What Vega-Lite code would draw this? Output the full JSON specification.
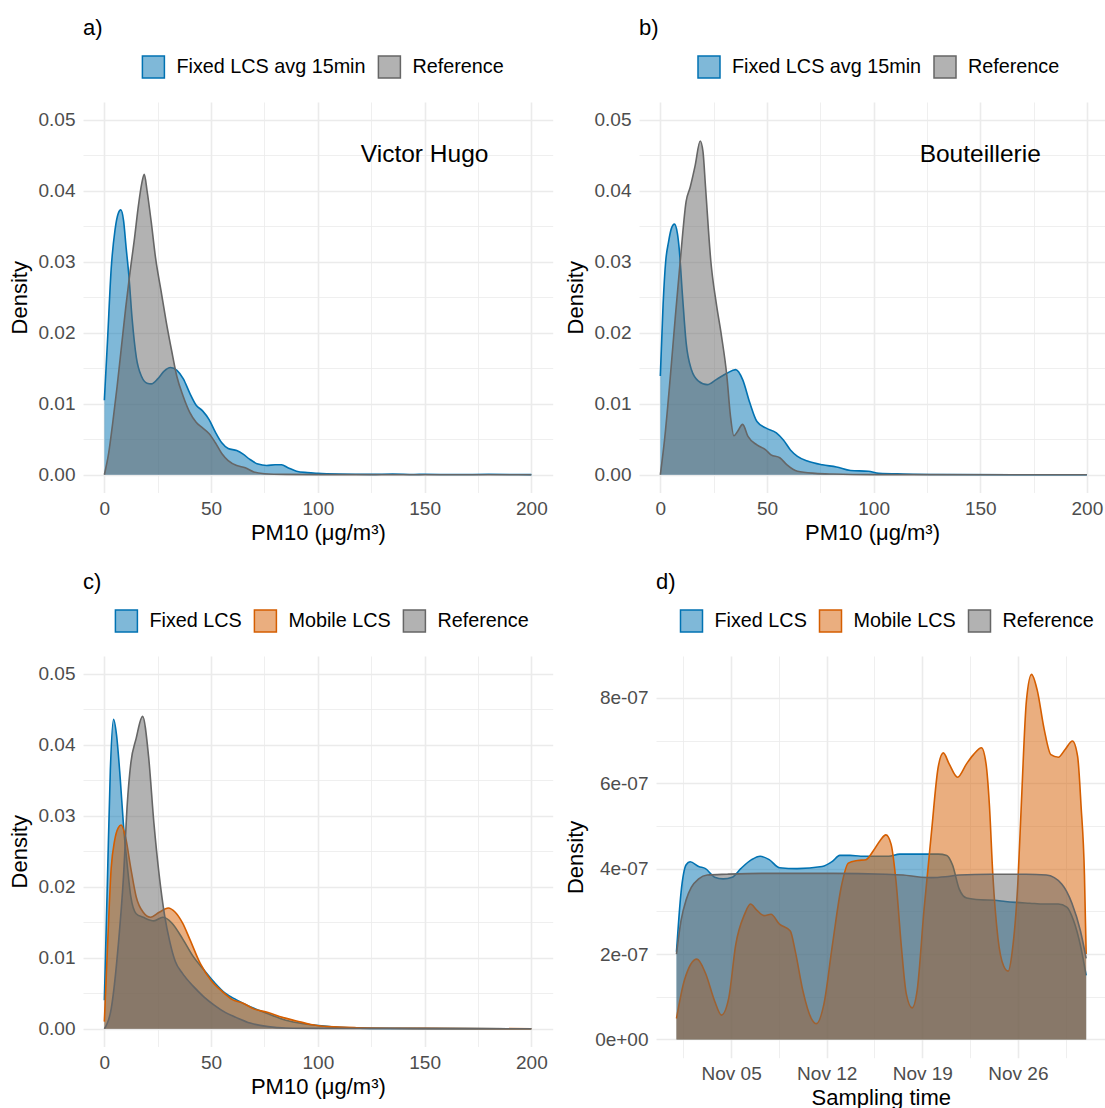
{
  "$schema": "https://vega.github.io/schema/vega-lite/v6.json",
  "padding": {"left": 8, "top": 16, "right": 0, "bottom": 0},
  "config": {
    "font": "Liberation Sans",
    "view": {"stroke": null},
    "axis": {
      "domain": false, "ticks": false, "tickSize": 0,
      "gridColor": "#EBEBEB",
      "labelColor": "#4D4D4D", "labelFontSize": 19, "labelFont": "Liberation Sans",
      "titleFont": "Liberation Sans", "titleFontSize": 22, "titleFontWeight": "normal", "titleColor": "#000000",
      "labelPadding": 8, "titlePadding": 7, "labelFlush": false, "labelOverlap": false
    },
    "axisX": {"labelPadding": 7, "titlePadding": 4},
    "title": {"font": "Liberation Sans", "fontSize": 22, "fontWeight": "normal", "color": "#000000", "anchor": "start", "frame": "group", "baseline": "alphabetic", "offset": 15.5},
    "legend": {
      "orient": "none", "direction": "horizontal", "title": null,
      "symbolType": "square", "symbolSize": 484, "symbolStrokeWidth": 1.5,
      "labelFont": "Liberation Sans", "labelFontSize": 19.8, "labelColor": "#000000", "labelLimit": 500,
      "labelOffset": 11, "columnPadding": 9, "padding": 0, "offset": 0
    }
  },
  "datasets": {
    "pm": [
      {"p":"a","s":"Fixed LCS avg 15min","x":0,"y":0.0105},{"p":"a","s":"Fixed LCS avg 15min","x":1.5,"y":0.019},{"p":"a","s":"Fixed LCS avg 15min","x":3.2,"y":0.029},{"p":"a","s":"Fixed LCS avg 15min","x":5,"y":0.0345},{"p":"a","s":"Fixed LCS avg 15min","x":6.5,"y":0.0368},{"p":"a","s":"Fixed LCS avg 15min","x":7.7,"y":0.0373},{"p":"a","s":"Fixed LCS avg 15min","x":9,"y":0.0358},{"p":"a","s":"Fixed LCS avg 15min","x":10.2,"y":0.032},{"p":"a","s":"Fixed LCS avg 15min","x":11.5,"y":0.028},{"p":"a","s":"Fixed LCS avg 15min","x":13,"y":0.022},{"p":"a","s":"Fixed LCS avg 15min","x":15,"y":0.0165},{"p":"a","s":"Fixed LCS avg 15min","x":17.5,"y":0.0138},{"p":"a","s":"Fixed LCS avg 15min","x":20,"y":0.0129},{"p":"a","s":"Fixed LCS avg 15min","x":22,"y":0.0128},{"p":"a","s":"Fixed LCS avg 15min","x":25,"y":0.0135},{"p":"a","s":"Fixed LCS avg 15min","x":28,"y":0.0146},{"p":"a","s":"Fixed LCS avg 15min","x":31,"y":0.0151},{"p":"a","s":"Fixed LCS avg 15min","x":34,"y":0.0147},{"p":"a","s":"Fixed LCS avg 15min","x":37,"y":0.0135},{"p":"a","s":"Fixed LCS avg 15min","x":40,"y":0.0115},{"p":"a","s":"Fixed LCS avg 15min","x":43,"y":0.0098},{"p":"a","s":"Fixed LCS avg 15min","x":46,"y":0.009},{"p":"a","s":"Fixed LCS avg 15min","x":49,"y":0.0078},{"p":"a","s":"Fixed LCS avg 15min","x":52,"y":0.006},{"p":"a","s":"Fixed LCS avg 15min","x":55,"y":0.0045},{"p":"a","s":"Fixed LCS avg 15min","x":58,"y":0.0037},{"p":"a","s":"Fixed LCS avg 15min","x":62,"y":0.0034},{"p":"a","s":"Fixed LCS avg 15min","x":65,"y":0.0029},{"p":"a","s":"Fixed LCS avg 15min","x":68,"y":0.0022},{"p":"a","s":"Fixed LCS avg 15min","x":72,"y":0.0015},{"p":"a","s":"Fixed LCS avg 15min","x":76,"y":0.0013},{"p":"a","s":"Fixed LCS avg 15min","x":80,"y":0.0014},{"p":"a","s":"Fixed LCS avg 15min","x":83,"y":0.0014},{"p":"a","s":"Fixed LCS avg 15min","x":86,"y":0.001},{"p":"a","s":"Fixed LCS avg 15min","x":90,"y":0.0005},{"p":"a","s":"Fixed LCS avg 15min","x":95,"y":0.0003},{"p":"a","s":"Fixed LCS avg 15min","x":100,"y":0.0002},{"p":"a","s":"Fixed LCS avg 15min","x":110,"y":0.0001},{"p":"a","s":"Fixed LCS avg 15min","x":125,"y":0.00005},{"p":"a","s":"Fixed LCS avg 15min","x":135,"y":0.0001},{"p":"a","s":"Fixed LCS avg 15min","x":145,"y":0.00004},{"p":"a","s":"Fixed LCS avg 15min","x":150,"y":0.00006},{"p":"a","s":"Fixed LCS avg 15min","x":165,"y":0.00003},{"p":"a","s":"Fixed LCS avg 15min","x":180,"y":0.00006},{"p":"a","s":"Fixed LCS avg 15min","x":200,"y":0.00002},
      {"p":"a","s":"Reference","x":0,"y":0},{"p":"a","s":"Reference","x":2,"y":0.003},{"p":"a","s":"Reference","x":4,"y":0.0075},{"p":"a","s":"Reference","x":6,"y":0.0125},{"p":"a","s":"Reference","x":8,"y":0.018},{"p":"a","s":"Reference","x":10,"y":0.0235},{"p":"a","s":"Reference","x":12,"y":0.0285},{"p":"a","s":"Reference","x":14,"y":0.033},{"p":"a","s":"Reference","x":16,"y":0.038},{"p":"a","s":"Reference","x":17.5,"y":0.041},{"p":"a","s":"Reference","x":18.7,"y":0.0423},{"p":"a","s":"Reference","x":20,"y":0.04},{"p":"a","s":"Reference","x":22,"y":0.0355},{"p":"a","s":"Reference","x":24,"y":0.0305},{"p":"a","s":"Reference","x":26.5,"y":0.026},{"p":"a","s":"Reference","x":29,"y":0.0215},{"p":"a","s":"Reference","x":31.5,"y":0.0175},{"p":"a","s":"Reference","x":34,"y":0.0138},{"p":"a","s":"Reference","x":37,"y":0.011},{"p":"a","s":"Reference","x":40,"y":0.0088},{"p":"a","s":"Reference","x":43,"y":0.0074},{"p":"a","s":"Reference","x":46,"y":0.0066},{"p":"a","s":"Reference","x":49,"y":0.0058},{"p":"a","s":"Reference","x":52,"y":0.0045},{"p":"a","s":"Reference","x":55,"y":0.003},{"p":"a","s":"Reference","x":58,"y":0.002},{"p":"a","s":"Reference","x":62,"y":0.0013},{"p":"a","s":"Reference","x":66,"y":0.001},{"p":"a","s":"Reference","x":70,"y":0.0004},{"p":"a","s":"Reference","x":75,"y":0.00015},{"p":"a","s":"Reference","x":85,"y":0.00005},{"p":"a","s":"Reference","x":100,"y":0.00002},{"p":"a","s":"Reference","x":200,"y":0},
      {"p":"b","s":"Fixed LCS avg 15min","x":0,"y":0.0139},{"p":"b","s":"Fixed LCS avg 15min","x":1.3,"y":0.024},{"p":"b","s":"Fixed LCS avg 15min","x":2.5,"y":0.03},{"p":"b","s":"Fixed LCS avg 15min","x":3.8,"y":0.0327},{"p":"b","s":"Fixed LCS avg 15min","x":5.2,"y":0.0347},{"p":"b","s":"Fixed LCS avg 15min","x":6.6,"y":0.0353},{"p":"b","s":"Fixed LCS avg 15min","x":8,"y":0.034},{"p":"b","s":"Fixed LCS avg 15min","x":8.8,"y":0.032},{"p":"b","s":"Fixed LCS avg 15min","x":10.4,"y":0.0252},{"p":"b","s":"Fixed LCS avg 15min","x":12.1,"y":0.0186},{"p":"b","s":"Fixed LCS avg 15min","x":14.6,"y":0.0148},{"p":"b","s":"Fixed LCS avg 15min","x":17.9,"y":0.0132},{"p":"b","s":"Fixed LCS avg 15min","x":22,"y":0.0127},{"p":"b","s":"Fixed LCS avg 15min","x":26.2,"y":0.0134},{"p":"b","s":"Fixed LCS avg 15min","x":31.2,"y":0.0143},{"p":"b","s":"Fixed LCS avg 15min","x":35.3,"y":0.0148},{"p":"b","s":"Fixed LCS avg 15min","x":38.6,"y":0.0134},{"p":"b","s":"Fixed LCS avg 15min","x":42,"y":0.0101},{"p":"b","s":"Fixed LCS avg 15min","x":45.3,"y":0.0075},{"p":"b","s":"Fixed LCS avg 15min","x":49.4,"y":0.0066},{"p":"b","s":"Fixed LCS avg 15min","x":54.4,"y":0.0059},{"p":"b","s":"Fixed LCS avg 15min","x":57.7,"y":0.0049},{"p":"b","s":"Fixed LCS avg 15min","x":61,"y":0.0035},{"p":"b","s":"Fixed LCS avg 15min","x":64.3,"y":0.0026},{"p":"b","s":"Fixed LCS avg 15min","x":69.3,"y":0.0019},{"p":"b","s":"Fixed LCS avg 15min","x":76,"y":0.0014},{"p":"b","s":"Fixed LCS avg 15min","x":82.6,"y":0.0011},{"p":"b","s":"Fixed LCS avg 15min","x":89.2,"y":0.0006},{"p":"b","s":"Fixed LCS avg 15min","x":97.5,"y":0.0005},{"p":"b","s":"Fixed LCS avg 15min","x":102.5,"y":0.0002},{"p":"b","s":"Fixed LCS avg 15min","x":114,"y":0.0001},{"p":"b","s":"Fixed LCS avg 15min","x":130,"y":0.00003},{"p":"b","s":"Fixed LCS avg 15min","x":200,"y":0},
      {"p":"b","s":"Reference","x":0,"y":0},{"p":"b","s":"Reference","x":2,"y":0.005},{"p":"b","s":"Reference","x":4.6,"y":0.0135},{"p":"b","s":"Reference","x":7.1,"y":0.0225},{"p":"b","s":"Reference","x":9.6,"y":0.031},{"p":"b","s":"Reference","x":12.1,"y":0.0385},{"p":"b","s":"Reference","x":14,"y":0.0405},{"p":"b","s":"Reference","x":16.3,"y":0.0435},{"p":"b","s":"Reference","x":18.7,"y":0.047},{"p":"b","s":"Reference","x":20,"y":0.0455},{"p":"b","s":"Reference","x":21.2,"y":0.0405},{"p":"b","s":"Reference","x":23.7,"y":0.03},{"p":"b","s":"Reference","x":26.2,"y":0.0242},{"p":"b","s":"Reference","x":28.7,"y":0.0195},{"p":"b","s":"Reference","x":31.2,"y":0.0139},{"p":"b","s":"Reference","x":32.8,"y":0.0085},{"p":"b","s":"Reference","x":34.5,"y":0.0055},{"p":"b","s":"Reference","x":36.2,"y":0.0061},{"p":"b","s":"Reference","x":38.6,"y":0.0071},{"p":"b","s":"Reference","x":41.1,"y":0.0054},{"p":"b","s":"Reference","x":45.3,"y":0.0042},{"p":"b","s":"Reference","x":49.4,"y":0.0035},{"p":"b","s":"Reference","x":51.9,"y":0.0028},{"p":"b","s":"Reference","x":56,"y":0.0024},{"p":"b","s":"Reference","x":59.4,"y":0.0014},{"p":"b","s":"Reference","x":64.3,"y":0.0005},{"p":"b","s":"Reference","x":72.6,"y":0.0002},{"p":"b","s":"Reference","x":81,"y":0.0001},{"p":"b","s":"Reference","x":100,"y":0.00002},{"p":"b","s":"Reference","x":200,"y":0},
      {"p":"c","s":"Fixed LCS","x":0,"y":0.004},{"p":"c","s":"Fixed LCS","x":1.5,"y":0.0216},{"p":"c","s":"Fixed LCS","x":2.8,"y":0.0364},{"p":"c","s":"Fixed LCS","x":4.3,"y":0.0436},{"p":"c","s":"Fixed LCS","x":5.7,"y":0.0414},{"p":"c","s":"Fixed LCS","x":7.4,"y":0.0354},{"p":"c","s":"Fixed LCS","x":9,"y":0.0285},{"p":"c","s":"Fixed LCS","x":10.7,"y":0.0231},{"p":"c","s":"Fixed LCS","x":12.4,"y":0.0186},{"p":"c","s":"Fixed LCS","x":14.9,"y":0.0162},{"p":"c","s":"Fixed LCS","x":18.2,"y":0.0157},{"p":"c","s":"Fixed LCS","x":23.2,"y":0.0152},{"p":"c","s":"Fixed LCS","x":27.4,"y":0.0157},{"p":"c","s":"Fixed LCS","x":31.6,"y":0.0149},{"p":"c","s":"Fixed LCS","x":36.6,"y":0.0127},{"p":"c","s":"Fixed LCS","x":41.6,"y":0.0102},{"p":"c","s":"Fixed LCS","x":46.6,"y":0.0083},{"p":"c","s":"Fixed LCS","x":51.6,"y":0.0065},{"p":"c","s":"Fixed LCS","x":56.6,"y":0.005},{"p":"c","s":"Fixed LCS","x":61.7,"y":0.0041},{"p":"c","s":"Fixed LCS","x":68.3,"y":0.0031},{"p":"c","s":"Fixed LCS","x":76.7,"y":0.0021},{"p":"c","s":"Fixed LCS","x":85,"y":0.0012},{"p":"c","s":"Fixed LCS","x":93.4,"y":0.0007},{"p":"c","s":"Fixed LCS","x":101.8,"y":0.0004},{"p":"c","s":"Fixed LCS","x":110,"y":0.0002},{"p":"c","s":"Fixed LCS","x":130,"y":0.00005},{"p":"c","s":"Fixed LCS","x":200,"y":0},
      {"p":"c","s":"Mobile LCS","x":0,"y":0.001},{"p":"c","s":"Mobile LCS","x":1.5,"y":0.0117},{"p":"c","s":"Mobile LCS","x":3.2,"y":0.0226},{"p":"c","s":"Mobile LCS","x":4.8,"y":0.0265},{"p":"c","s":"Mobile LCS","x":6.5,"y":0.0283},{"p":"c","s":"Mobile LCS","x":7.9,"y":0.0287},{"p":"c","s":"Mobile LCS","x":9.9,"y":0.027},{"p":"c","s":"Mobile LCS","x":12.4,"y":0.0226},{"p":"c","s":"Mobile LCS","x":14.9,"y":0.0186},{"p":"c","s":"Mobile LCS","x":18.2,"y":0.0164},{"p":"c","s":"Mobile LCS","x":21.6,"y":0.0157},{"p":"c","s":"Mobile LCS","x":25.7,"y":0.0164},{"p":"c","s":"Mobile LCS","x":29.9,"y":0.017},{"p":"c","s":"Mobile LCS","x":33.2,"y":0.0164},{"p":"c","s":"Mobile LCS","x":36.6,"y":0.0149},{"p":"c","s":"Mobile LCS","x":39.9,"y":0.0127},{"p":"c","s":"Mobile LCS","x":44.9,"y":0.0092},{"p":"c","s":"Mobile LCS","x":50,"y":0.0068},{"p":"c","s":"Mobile LCS","x":55,"y":0.0053},{"p":"c","s":"Mobile LCS","x":60,"y":0.0041},{"p":"c","s":"Mobile LCS","x":65,"y":0.0036},{"p":"c","s":"Mobile LCS","x":70,"y":0.0028},{"p":"c","s":"Mobile LCS","x":76.7,"y":0.0023},{"p":"c","s":"Mobile LCS","x":83.4,"y":0.0016},{"p":"c","s":"Mobile LCS","x":90,"y":0.0011},{"p":"c","s":"Mobile LCS","x":96.7,"y":0.0006},{"p":"c","s":"Mobile LCS","x":105,"y":0.0003},{"p":"c","s":"Mobile LCS","x":118,"y":0.00015},{"p":"c","s":"Mobile LCS","x":150,"y":0.00005},{"p":"c","s":"Mobile LCS","x":200,"y":0},
      {"p":"c","s":"Reference","x":0,"y":0},{"p":"c","s":"Reference","x":3.2,"y":0.0028},{"p":"c","s":"Reference","x":6.5,"y":0.0117},{"p":"c","s":"Reference","x":9,"y":0.0216},{"p":"c","s":"Reference","x":10.7,"y":0.0315},{"p":"c","s":"Reference","x":12.4,"y":0.0374},{"p":"c","s":"Reference","x":14.9,"y":0.0409},{"p":"c","s":"Reference","x":17.9,"y":0.044},{"p":"c","s":"Reference","x":20.7,"y":0.0384},{"p":"c","s":"Reference","x":23.2,"y":0.029},{"p":"c","s":"Reference","x":25.7,"y":0.0216},{"p":"c","s":"Reference","x":28.2,"y":0.016},{"p":"c","s":"Reference","x":30.7,"y":0.0122},{"p":"c","s":"Reference","x":33.2,"y":0.0095},{"p":"c","s":"Reference","x":36.6,"y":0.0078},{"p":"c","s":"Reference","x":41.6,"y":0.006},{"p":"c","s":"Reference","x":46.6,"y":0.0045},{"p":"c","s":"Reference","x":51.6,"y":0.0033},{"p":"c","s":"Reference","x":56.6,"y":0.0023},{"p":"c","s":"Reference","x":61.7,"y":0.0016},{"p":"c","s":"Reference","x":68.3,"y":0.0008},{"p":"c","s":"Reference","x":76.7,"y":0.0003},{"p":"c","s":"Reference","x":85,"y":0.0001},{"p":"c","s":"Reference","x":100,"y":0.00005},{"p":"c","s":"Reference","x":200,"y":0}
    ],
    "tm": [
      {"s":"Fixed LCS","t":"2021-11-01T00:00:00Z","y":2.05e-7},{"s":"Fixed LCS","t":"2021-11-01T08:00:00Z","y":3.44e-7},{"s":"Fixed LCS","t":"2021-11-01T17:00:00Z","y":4.09e-7},{"s":"Fixed LCS","t":"2021-11-02T00:00:00Z","y":4.16e-7},{"s":"Fixed LCS","t":"2021-11-02T15:00:00Z","y":4.05e-7},{"s":"Fixed LCS","t":"2021-11-03T03:00:00Z","y":4.0e-7},{"s":"Fixed LCS","t":"2021-11-03T19:00:00Z","y":3.8e-7},{"s":"Fixed LCS","t":"2021-11-04T10:00:00Z","y":3.76e-7},{"s":"Fixed LCS","t":"2021-11-05T02:00:00Z","y":3.8e-7},{"s":"Fixed LCS","t":"2021-11-05T17:00:00Z","y":4.0e-7},{"s":"Fixed LCS","t":"2021-11-06T12:00:00Z","y":4.21e-7},{"s":"Fixed LCS","t":"2021-11-07T03:00:00Z","y":4.29e-7},{"s":"Fixed LCS","t":"2021-11-07T19:00:00Z","y":4.21e-7},{"s":"Fixed LCS","t":"2021-11-08T13:00:00Z","y":4.02e-7},{"s":"Fixed LCS","t":"2021-11-09T20:00:00Z","y":4.0e-7},{"s":"Fixed LCS","t":"2021-11-11T16:00:00Z","y":4.05e-7},{"s":"Fixed LCS","t":"2021-11-12T10:00:00Z","y":4.17e-7},{"s":"Fixed LCS","t":"2021-11-12T23:00:00Z","y":4.31e-7},{"s":"Fixed LCS","t":"2021-11-13T17:00:00Z","y":4.31e-7},{"s":"Fixed LCS","t":"2021-11-14T12:00:00Z","y":4.29e-7},{"s":"Fixed LCS","t":"2021-11-15T12:00:00Z","y":4.29e-7},{"s":"Fixed LCS","t":"2021-11-16T13:00:00Z","y":4.29e-7},{"s":"Fixed LCS","t":"2021-11-17T08:00:00Z","y":4.34e-7},{"s":"Fixed LCS","t":"2021-11-18T21:00:00Z","y":4.34e-7},{"s":"Fixed LCS","t":"2021-11-20T04:00:00Z","y":4.34e-7},{"s":"Fixed LCS","t":"2021-11-20T19:00:00Z","y":4.31e-7},{"s":"Fixed LCS","t":"2021-11-21T05:00:00Z","y":4.09e-7},{"s":"Fixed LCS","t":"2021-11-21T17:00:00Z","y":3.52e-7},{"s":"Fixed LCS","t":"2021-11-22T06:00:00Z","y":3.31e-7},{"s":"Fixed LCS","t":"2021-11-23T06:00:00Z","y":3.27e-7},{"s":"Fixed LCS","t":"2021-11-24T07:00:00Z","y":3.26e-7},{"s":"Fixed LCS","t":"2021-11-25T02:00:00Z","y":3.23e-7},{"s":"Fixed LCS","t":"2021-11-25T20:00:00Z","y":3.21e-7},{"s":"Fixed LCS","t":"2021-11-26T21:00:00Z","y":3.19e-7},{"s":"Fixed LCS","t":"2021-11-27T22:00:00Z","y":3.17e-7},{"s":"Fixed LCS","t":"2021-11-28T23:00:00Z","y":3.17e-7},{"s":"Fixed LCS","t":"2021-11-29T14:00:00Z","y":3.1e-7},{"s":"Fixed LCS","t":"2021-11-30T02:00:00Z","y":2.78e-7},{"s":"Fixed LCS","t":"2021-11-30T14:00:00Z","y":2.2e-7},{"s":"Fixed LCS","t":"2021-12-01T00:00:00Z","y":1.5e-7},
      {"s":"Mobile LCS","t":"2021-11-01T00:00:00Z","y":0.49e-7},{"s":"Mobile LCS","t":"2021-11-01T14:00:00Z","y":1.39e-7},{"s":"Mobile LCS","t":"2021-11-02T12:00:00Z","y":1.88e-7},{"s":"Mobile LCS","t":"2021-11-03T03:00:00Z","y":1.55e-7},{"s":"Mobile LCS","t":"2021-11-03T19:00:00Z","y":0.9e-7},{"s":"Mobile LCS","t":"2021-11-04T07:00:00Z","y":0.57e-7},{"s":"Mobile LCS","t":"2021-11-04T20:00:00Z","y":0.98e-7},{"s":"Mobile LCS","t":"2021-11-05T08:00:00Z","y":2.21e-7},{"s":"Mobile LCS","t":"2021-11-06T00:00:00Z","y":2.94e-7},{"s":"Mobile LCS","t":"2021-11-06T10:00:00Z","y":3.17e-7},{"s":"Mobile LCS","t":"2021-11-06T21:00:00Z","y":3.03e-7},{"s":"Mobile LCS","t":"2021-11-07T10:00:00Z","y":2.9e-7},{"s":"Mobile LCS","t":"2021-11-07T22:00:00Z","y":2.93e-7},{"s":"Mobile LCS","t":"2021-11-08T13:00:00Z","y":2.7e-7},{"s":"Mobile LCS","t":"2021-11-09T08:00:00Z","y":2.54e-7},{"s":"Mobile LCS","t":"2021-11-09T17:00:00Z","y":2.05e-7},{"s":"Mobile LCS","t":"2021-11-10T06:00:00Z","y":1.15e-7},{"s":"Mobile LCS","t":"2021-11-10T21:00:00Z","y":0.49e-7},{"s":"Mobile LCS","t":"2021-11-11T06:00:00Z","y":0.37e-7},{"s":"Mobile LCS","t":"2021-11-11T19:00:00Z","y":0.82e-7},{"s":"Mobile LCS","t":"2021-11-12T10:00:00Z","y":2.21e-7},{"s":"Mobile LCS","t":"2021-11-13T02:00:00Z","y":3.6e-7},{"s":"Mobile LCS","t":"2021-11-13T14:00:00Z","y":4.13e-7},{"s":"Mobile LCS","t":"2021-11-14T06:00:00Z","y":4.19e-7},{"s":"Mobile LCS","t":"2021-11-14T21:00:00Z","y":4.21e-7},{"s":"Mobile LCS","t":"2021-11-15T10:00:00Z","y":4.42e-7},{"s":"Mobile LCS","t":"2021-11-15T22:00:00Z","y":4.66e-7},{"s":"Mobile LCS","t":"2021-11-16T08:00:00Z","y":4.79e-7},{"s":"Mobile LCS","t":"2021-11-16T17:00:00Z","y":4.58e-7},{"s":"Mobile LCS","t":"2021-11-17T02:00:00Z","y":3.68e-7},{"s":"Mobile LCS","t":"2021-11-17T11:00:00Z","y":2.21e-7},{"s":"Mobile LCS","t":"2021-11-17T20:00:00Z","y":1.06e-7},{"s":"Mobile LCS","t":"2021-11-18T06:00:00Z","y":0.74e-7},{"s":"Mobile LCS","t":"2021-11-18T15:00:00Z","y":1.15e-7},{"s":"Mobile LCS","t":"2021-11-19T03:00:00Z","y":3.03e-7},{"s":"Mobile LCS","t":"2021-11-19T16:00:00Z","y":4.83e-7},{"s":"Mobile LCS","t":"2021-11-20T04:00:00Z","y":6.38e-7},{"s":"Mobile LCS","t":"2021-11-20T13:00:00Z","y":6.71e-7},{"s":"Mobile LCS","t":"2021-11-20T23:00:00Z","y":6.46e-7},{"s":"Mobile LCS","t":"2021-11-21T14:00:00Z","y":6.14e-7},{"s":"Mobile LCS","t":"2021-11-22T06:00:00Z","y":6.46e-7},{"s":"Mobile LCS","t":"2021-11-22T18:00:00Z","y":6.67e-7},{"s":"Mobile LCS","t":"2021-11-23T08:00:00Z","y":6.83e-7},{"s":"Mobile LCS","t":"2021-11-23T16:00:00Z","y":6.46e-7},{"s":"Mobile LCS","t":"2021-11-23T22:00:00Z","y":5.48e-7},{"s":"Mobile LCS","t":"2021-11-24T04:00:00Z","y":3.85e-7},{"s":"Mobile LCS","t":"2021-11-24T13:00:00Z","y":2.37e-7},{"s":"Mobile LCS","t":"2021-11-24T23:00:00Z","y":1.72e-7},{"s":"Mobile LCS","t":"2021-11-25T07:00:00Z","y":1.6e-7},{"s":"Mobile LCS","t":"2021-11-25T14:00:00Z","y":2.05e-7},{"s":"Mobile LCS","t":"2021-11-26T00:00:00Z","y":3.68e-7},{"s":"Mobile LCS","t":"2021-11-26T06:00:00Z","y":5.48e-7},{"s":"Mobile LCS","t":"2021-11-26T15:00:00Z","y":7.93e-7},{"s":"Mobile LCS","t":"2021-11-27T00:00:00Z","y":8.55e-7},{"s":"Mobile LCS","t":"2021-11-27T10:00:00Z","y":8.18e-7},{"s":"Mobile LCS","t":"2021-11-27T22:00:00Z","y":7.28e-7},{"s":"Mobile LCS","t":"2021-11-28T10:00:00Z","y":6.67e-7},{"s":"Mobile LCS","t":"2021-11-28T23:00:00Z","y":6.61e-7},{"s":"Mobile LCS","t":"2021-11-29T11:00:00Z","y":6.79e-7},{"s":"Mobile LCS","t":"2021-11-30T00:00:00Z","y":6.99e-7},{"s":"Mobile LCS","t":"2021-11-30T09:00:00Z","y":6.63e-7},{"s":"Mobile LCS","t":"2021-11-30T15:00:00Z","y":5.48e-7},{"s":"Mobile LCS","t":"2021-11-30T21:00:00Z","y":3.85e-7},{"s":"Mobile LCS","t":"2021-12-01T00:00:00Z","y":2.0e-7},
      {"s":"Reference","t":"2021-11-01T00:00:00Z","y":2.0e-7},{"s":"Reference","t":"2021-11-01T08:00:00Z","y":2.78e-7},{"s":"Reference","t":"2021-11-01T17:00:00Z","y":3.27e-7},{"s":"Reference","t":"2021-11-02T02:00:00Z","y":3.56e-7},{"s":"Reference","t":"2021-11-02T15:00:00Z","y":3.76e-7},{"s":"Reference","t":"2021-11-03T06:00:00Z","y":3.85e-7},{"s":"Reference","t":"2021-11-04T17:00:00Z","y":3.87e-7},{"s":"Reference","t":"2021-11-07T06:00:00Z","y":3.89e-7},{"s":"Reference","t":"2021-11-12T10:00:00Z","y":3.89e-7},{"s":"Reference","t":"2021-11-16T07:00:00Z","y":3.87e-7},{"s":"Reference","t":"2021-11-17T14:00:00Z","y":3.85e-7},{"s":"Reference","t":"2021-11-18T22:00:00Z","y":3.8e-7},{"s":"Reference","t":"2021-11-19T16:00:00Z","y":3.79e-7},{"s":"Reference","t":"2021-11-20T17:00:00Z","y":3.81e-7},{"s":"Reference","t":"2021-11-21T17:00:00Z","y":3.85e-7},{"s":"Reference","t":"2021-11-24T00:00:00Z","y":3.87e-7},{"s":"Reference","t":"2021-11-26T14:00:00Z","y":3.87e-7},{"s":"Reference","t":"2021-11-28T02:00:00Z","y":3.85e-7},{"s":"Reference","t":"2021-11-29T05:00:00Z","y":3.64e-7},{"s":"Reference","t":"2021-11-29T23:00:00Z","y":3.19e-7},{"s":"Reference","t":"2021-11-30T14:00:00Z","y":2.54e-7},{"s":"Reference","t":"2021-12-01T00:00:00Z","y":1.9e-7}
    ]
  },
  "columns": 2,
  "align": "none",
  "spacing": {"column": 11, "row": 26},
  "resolve": {
    "scale": {"x": "independent", "y": "independent", "fill": "independent"},
    "legend": {"fill": "independent"}
  },
  "concat": [
    {
      "width": 469.7, "height": 390.5,
      "title": {"text": "a)"},
      "data": {"name": "pm"},
      "encoding": {
        "x": {"field": "x", "type": "quantitative", "scale": {"domain": [-10, 210], "nice": false, "zero": false},
          "axis": {"title": "PM10 (μg/m³)", "values": [0, 25, 50, 75, 100, 125, 150, 175, 200], "labelExpr": "datum.value % 50 == 0 ? datum.label : ''",
            "gridWidth": {"condition": {"test": "datum.value % 50 != 0", "value": 0.8}, "value": 1.6}}},
        "y": {"field": "y", "type": "quantitative", "stack": null, "scale": {"domain": [-0.0025, 0.0525], "nice": false, "zero": false},
          "axis": {"title": "Density", "values": [0, 0.005, 0.01, 0.015, 0.02, 0.025, 0.03, 0.035, 0.04, 0.045, 0.05], "labelExpr": "round(datum.value * 1000) % 10 == 0 ? format(datum.value, '.2f') : ''",
            "gridWidth": {"condition": {"test": "round(datum.value * 1000) % 10 != 0", "value": 0.8}, "value": 1.6}}}
      },
      "layer": [
        {"transform": [{"filter": "datum.p == 'a' && datum.s == 'Fixed LCS avg 15min'"}],
          "mark": {"type": "area", "interpolate": "monotone", "fillOpacity": 0.5},
          "encoding": {"y2": {"datum": 0},
            "fill": {"field": "s", "type": "nominal", "scale": {"domain": ["Fixed LCS avg 15min", "Reference"], "range": ["#0072B2", "#666666"]},
              "legend": {"legendX": 58.4, "legendY": -47, "encode": {"symbols": {"update": {"fillOpacity": {"value": 0.5}, "opacity": {"value": 1}, "stroke": {"signal": "datum.value === 'Reference' ? '#666666' : '#0072B2'"}}}}}}}},
        {"transform": [{"filter": "datum.p == 'a' && datum.s == 'Fixed LCS avg 15min'"}],
          "mark": {"type": "line", "interpolate": "monotone", "color": "#0072B2", "strokeWidth": 1.6}},
        {"transform": [{"filter": "datum.p == 'a' && datum.s == 'Reference'"}],
          "mark": {"type": "area", "interpolate": "monotone", "fillOpacity": 0.5},
          "encoding": {"y2": {"datum": 0},
            "fill": {"field": "s", "type": "nominal", "scale": {"domain": ["Fixed LCS avg 15min", "Reference"], "range": ["#0072B2", "#666666"]}}}},
        {"transform": [{"filter": "datum.p == 'a' && datum.s == 'Reference'"}],
          "mark": {"type": "line", "interpolate": "monotone", "color": "#666666", "strokeWidth": 1.6}},
        {"data": {"values": [{"x": 150, "y": 0.045, "label": "Victor Hugo"}]},
          "mark": {"type": "text", "fontSize": 24.5, "color": "#000000", "align": "center", "baseline": "middle"},
          "encoding": {"text": {"field": "label"}}}
      ]
    },
    {
      "width": 466, "height": 390.5,
      "title": {"text": "b)"},
      "data": {"name": "pm"},
      "encoding": {
        "x": {"field": "x", "type": "quantitative", "scale": {"domain": [-10, 208.5], "nice": false, "zero": false},
          "axis": {"title": "PM10 (μg/m³)", "values": [0, 25, 50, 75, 100, 125, 150, 175, 200], "labelExpr": "datum.value % 50 == 0 ? datum.label : ''",
            "gridWidth": {"condition": {"test": "datum.value % 50 != 0", "value": 0.8}, "value": 1.6}}},
        "y": {"field": "y", "type": "quantitative", "stack": null, "scale": {"domain": [-0.0025, 0.0525], "nice": false, "zero": false},
          "axis": {"title": "Density", "values": [0, 0.005, 0.01, 0.015, 0.02, 0.025, 0.03, 0.035, 0.04, 0.045, 0.05], "labelExpr": "round(datum.value * 1000) % 10 == 0 ? format(datum.value, '.2f') : ''",
            "gridWidth": {"condition": {"test": "round(datum.value * 1000) % 10 != 0", "value": 0.8}, "value": 1.6}}}
      },
      "layer": [
        {"transform": [{"filter": "datum.p == 'b' && datum.s == 'Fixed LCS avg 15min'"}],
          "mark": {"type": "area", "interpolate": "monotone", "fillOpacity": 0.5},
          "encoding": {"y2": {"datum": 0},
            "fill": {"field": "s", "type": "nominal", "scale": {"domain": ["Fixed LCS avg 15min", "Reference"], "range": ["#0072B2", "#666666"]},
              "legend": {"legendX": 58, "legendY": -47, "encode": {"symbols": {"update": {"fillOpacity": {"value": 0.5}, "opacity": {"value": 1}, "stroke": {"signal": "datum.value === 'Reference' ? '#666666' : '#0072B2'"}}}}}}}},
        {"transform": [{"filter": "datum.p == 'b' && datum.s == 'Fixed LCS avg 15min'"}],
          "mark": {"type": "line", "interpolate": "monotone", "color": "#0072B2", "strokeWidth": 1.6}},
        {"transform": [{"filter": "datum.p == 'b' && datum.s == 'Reference'"}],
          "mark": {"type": "area", "interpolate": "monotone", "fillOpacity": 0.5},
          "encoding": {"y2": {"datum": 0},
            "fill": {"field": "s", "type": "nominal", "scale": {"domain": ["Fixed LCS avg 15min", "Reference"], "range": ["#0072B2", "#666666"]}}}},
        {"transform": [{"filter": "datum.p == 'b' && datum.s == 'Reference'"}],
          "mark": {"type": "line", "interpolate": "monotone", "color": "#666666", "strokeWidth": 1.6}},
        {"data": {"values": [{"x": 150, "y": 0.045, "label": "Bouteillerie"}]},
          "mark": {"type": "text", "fontSize": 24.5, "color": "#000000", "align": "center", "baseline": "middle"},
          "encoding": {"text": {"field": "label"}}}
      ]
    },
    {
      "width": 469.7, "height": 390.5,
      "title": {"text": "c)"},
      "data": {"name": "pm"},
      "encoding": {
        "x": {"field": "x", "type": "quantitative", "scale": {"domain": [-10, 210], "nice": false, "zero": false},
          "axis": {"title": "PM10 (μg/m³)", "values": [0, 25, 50, 75, 100, 125, 150, 175, 200], "labelExpr": "datum.value % 50 == 0 ? datum.label : ''",
            "gridWidth": {"condition": {"test": "datum.value % 50 != 0", "value": 0.8}, "value": 1.6}}},
        "y": {"field": "y", "type": "quantitative", "stack": null, "scale": {"domain": [-0.0025, 0.0525], "nice": false, "zero": false},
          "axis": {"title": "Density", "values": [0, 0.005, 0.01, 0.015, 0.02, 0.025, 0.03, 0.035, 0.04, 0.045, 0.05], "labelExpr": "round(datum.value * 1000) % 10 == 0 ? format(datum.value, '.2f') : ''",
            "gridWidth": {"condition": {"test": "round(datum.value * 1000) % 10 != 0", "value": 0.8}, "value": 1.6}}}
      },
      "layer": [
        {"transform": [{"filter": "datum.p == 'c' && datum.s == 'Fixed LCS'"}],
          "mark": {"type": "area", "interpolate": "monotone", "fillOpacity": 0.5},
          "encoding": {"y2": {"datum": 0},
            "fill": {"field": "s", "type": "nominal", "scale": {"domain": ["Fixed LCS", "Mobile LCS", "Reference"], "range": ["#0072B2", "#D55E00", "#666666"]},
              "legend": {"legendX": 31.4, "legendY": -47, "encode": {"symbols": {"update": {"fillOpacity": {"value": 0.5}, "opacity": {"value": 1}, "stroke": {"signal": "datum.value === 'Reference' ? '#666666' : datum.value === 'Mobile LCS' ? '#D55E00' : '#0072B2'"}}}}}}}},
        {"transform": [{"filter": "datum.p == 'c' && datum.s == 'Fixed LCS'"}],
          "mark": {"type": "line", "interpolate": "monotone", "color": "#0072B2", "strokeWidth": 1.6}},
        {"transform": [{"filter": "datum.p == 'c' && datum.s == 'Mobile LCS'"}],
          "mark": {"type": "area", "interpolate": "monotone", "fillOpacity": 0.5},
          "encoding": {"y2": {"datum": 0},
            "fill": {"field": "s", "type": "nominal", "scale": {"domain": ["Fixed LCS", "Mobile LCS", "Reference"], "range": ["#0072B2", "#D55E00", "#666666"]}}}},
        {"transform": [{"filter": "datum.p == 'c' && datum.s == 'Mobile LCS'"}],
          "mark": {"type": "line", "interpolate": "monotone", "color": "#D55E00", "strokeWidth": 1.6}},
        {"transform": [{"filter": "datum.p == 'c' && datum.s == 'Reference'"}],
          "mark": {"type": "area", "interpolate": "monotone", "fillOpacity": 0.5},
          "encoding": {"y2": {"datum": 0},
            "fill": {"field": "s", "type": "nominal", "scale": {"domain": ["Fixed LCS", "Mobile LCS", "Reference"], "range": ["#0072B2", "#D55E00", "#666666"]}}}},
        {"transform": [{"filter": "datum.p == 'c' && datum.s == 'Reference'"}],
          "mark": {"type": "line", "interpolate": "monotone", "color": "#666666", "strokeWidth": 1.6}}
      ]
    },
    {
      "width": 449.5, "height": 401.7,
      "title": {"text": "d)"},
      "data": {"name": "tm"},
      "encoding": {
        "x": {"field": "t", "type": "temporal", "scale": {"type": "utc", "domain": [1635595200000, 1638439200000], "nice": false},
          "axis": {"title": "Sampling time",
            "values": [1635768000000, 1636070400000, 1636372800000, 1636675200000, 1636977600000, 1637280000000, 1637582400000, 1637884800000, 1638187200000],
            "labelExpr": "utchours(datum.value) == 0 ? utcFormat(datum.value, '%b %d') : ''",
            "gridWidth": {"condition": {"test": "utchours(datum.value) != 0", "value": 0.8}, "value": 1.6}}},
        "y": {"field": "y", "type": "quantitative", "stack": null, "scale": {"domain": [-4.28e-8, 8.98e-7], "nice": false, "zero": false},
          "axis": {"title": "Density", "values": [0, 1e-7, 2e-7, 3e-7, 4e-7, 5e-7, 6e-7, 7e-7, 8e-7],
            "labelExpr": "round(datum.value * 1e7) % 2 == 0 ? (round(datum.value * 1e7) == 0 ? '0e+00' : round(datum.value * 1e7) + 'e-07') : ''",
            "gridWidth": {"condition": {"test": "round(datum.value * 1e7) % 2 != 0", "value": 0.8}, "value": 1.6}}}
      },
      "layer": [
        {"transform": [{"filter": "datum.s == 'Fixed LCS'"}],
          "mark": {"type": "area", "interpolate": "monotone", "fillOpacity": 0.5},
          "encoding": {"y2": {"datum": 0},
            "fill": {"field": "s", "type": "nominal", "scale": {"domain": ["Fixed LCS", "Mobile LCS", "Reference"], "range": ["#0072B2", "#D55E00", "#666666"]},
              "legend": {"legendX": 23.5, "legendY": -47, "encode": {"symbols": {"update": {"fillOpacity": {"value": 0.5}, "opacity": {"value": 1}, "stroke": {"signal": "datum.value === 'Reference' ? '#666666' : datum.value === 'Mobile LCS' ? '#D55E00' : '#0072B2'"}}}}}}}},
        {"transform": [{"filter": "datum.s == 'Fixed LCS'"}],
          "mark": {"type": "line", "interpolate": "monotone", "color": "#0072B2", "strokeWidth": 1.6}},
        {"transform": [{"filter": "datum.s == 'Mobile LCS'"}],
          "mark": {"type": "area", "interpolate": "monotone", "fillOpacity": 0.5},
          "encoding": {"y2": {"datum": 0},
            "fill": {"field": "s", "type": "nominal", "scale": {"domain": ["Fixed LCS", "Mobile LCS", "Reference"], "range": ["#0072B2", "#D55E00", "#666666"]}}}},
        {"transform": [{"filter": "datum.s == 'Mobile LCS'"}],
          "mark": {"type": "line", "interpolate": "monotone", "color": "#D55E00", "strokeWidth": 1.6}},
        {"transform": [{"filter": "datum.s == 'Reference'"}],
          "mark": {"type": "area", "interpolate": "monotone", "fillOpacity": 0.5},
          "encoding": {"y2": {"datum": 0},
            "fill": {"field": "s", "type": "nominal", "scale": {"domain": ["Fixed LCS", "Mobile LCS", "Reference"], "range": ["#0072B2", "#D55E00", "#666666"]}}}},
        {"transform": [{"filter": "datum.s == 'Reference'"}],
          "mark": {"type": "line", "interpolate": "monotone", "color": "#666666", "strokeWidth": 1.6}}
      ]
    }
  ]
}
